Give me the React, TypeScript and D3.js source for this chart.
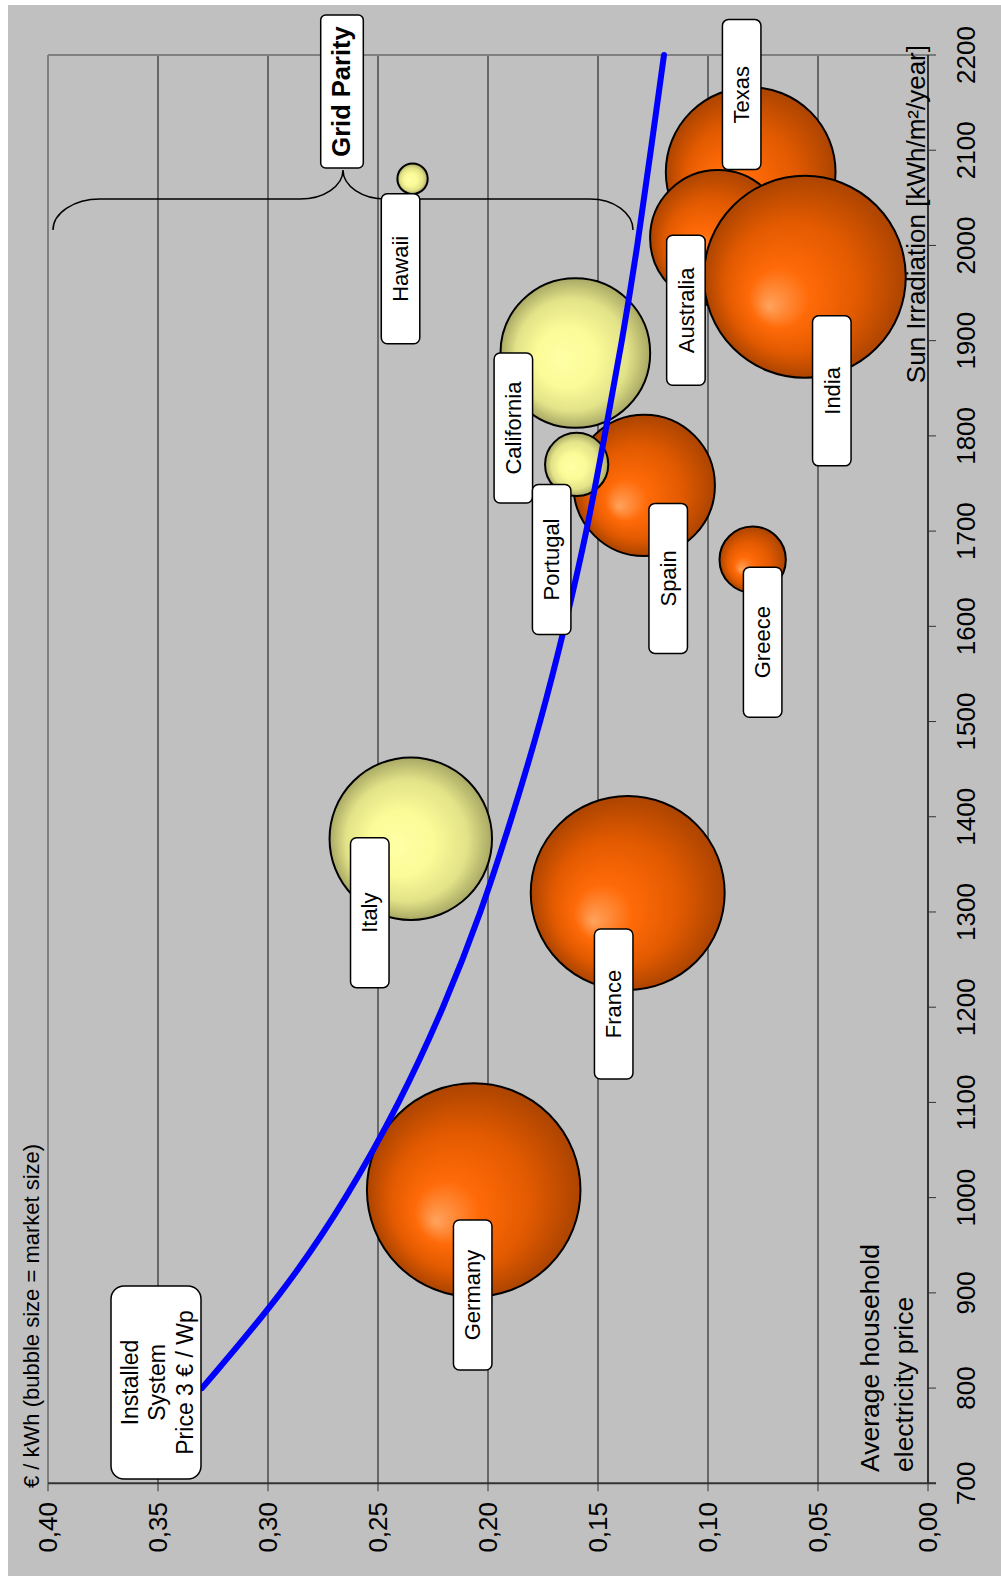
import React from 'react';
import * as d3 from 'd3';

// ---------- data ----------
const countries = ['Texas', 'Australia', 'India', 'Spain', 'Greece', 'France', 'Germany', 'Hawaii', 'California', 'Portugal', 'Italy'];
const irradiation = [2077, 2008, 1967, 1748, 1670, 1320, 1008, 2070, 1887, 1770, 1377];
const pricePerKWh = [0.0806, 0.0955, 0.056, 0.129, 0.0797, 0.1365, 0.2065, 0.2343, 0.1603, 0.1597, 0.2351];
const marketSize = [72, 46, 102, 50, 11, 94, 114, 2.3, 56, 10, 66];
const bubbleGroup = ['orange', 'orange', 'orange', 'orange', 'orange', 'orange', 'orange', 'yellow', 'yellow', 'yellow', 'yellow'];

// blue line: installed system price 3 €/Wp
const curveIrradiation = [800, 900, 1000, 1100, 1200, 1300, 1400, 1500, 1600, 1700, 1800, 1900, 2000, 2100, 2200];
const curvePrice = [0.330, 0.293, 0.264, 0.240, 0.220, 0.203, 0.189, 0.176, 0.165, 0.155, 0.147, 0.139, 0.132, 0.126, 0.120];

const irradiationTicks = [700, 800, 900, 1000, 1100, 1200, 1300, 1400, 1500, 1600, 1700, 1800, 1900, 2000, 2100, 2200];
const priceTicks = [0, 0.05, 0.1, 0.15, 0.2, 0.25, 0.3, 0.35, 0.4];

// ---------- layout (label offsets in the unrotated frame, px) ----------
const labelOffset: [number, number][] = [
  [77.5, -9], [-72.5, -32], [-114, 27], [-93, 24], [-82.5, 10], [-111, -14], [-105, -1],
  [-90, -12], [-75, -62], [-95, -25], [-74, -41],
];

const W = 1001;
const H = 1583;
const FONT = 'Liberation Sans, Arial, Helvetica, sans-serif';

export default function App() {
  const xScale = d3.scaleLinear().domain([700, 2200]).range([99.7, 1528]);
  const yScale = d3.scaleLinear().domain([0, 0.4]).range([928, 48]);
  const rScale = d3.scaleSqrt().domain([0, 100]).range([0, 100]);
  const fmt = (v: number) => d3.format('.2f')(v).replace('.', ',');

  const line = d3
    .line<number>()
    .x((_, i) => xScale(curveIrradiation[i]))
    .y((d) => yScale(d))
    .curve(d3.curveBasis);

  const [x0, x1] = xScale.range();
  const [yBottom, yTop] = yScale.range();

  const idx = countries.map((_, i) => i);

  const label = (i: number, keyPrefix: string) => {
    const cx = xScale(irradiation[i]) + labelOffset[i][0];
    const cy = yScale(pricePerKWh[i]) + labelOffset[i][1];
    return (
      <g key={keyPrefix + i}>
        <rect x={cx - 75} y={cy - 19.25} width={150} height={38.5} rx={6} fill="#fff" stroke="#000" strokeWidth={1.5} />
        <text x={cx} y={cy} dy="0.35em" textAnchor="middle" fontSize={22} fill="#000">
          {countries[i]}
        </text>
      </g>
    );
  };

  return (
    <svg width={W} height={H} style={{ position: 'absolute', left: 0, top: 0, display: 'block' }} fontFamily={FONT}>
      <defs>
        <radialGradient id="gOrange" cx="0.5" cy="0.5" r="0.5" fx="0.35" fy="0.32">
          <stop offset="0" stopColor="#ffa35e" />
          <stop offset="0.3" stopColor="#ff6a08" />
          <stop offset="0.65" stopColor="#e25a00" />
          <stop offset="1" stopColor="#ac4400" />
        </radialGradient>
        <radialGradient id="gYellow" cx="0.5" cy="0.5" r="0.5" fx="0.45" fy="0.4">
          <stop offset="0" stopColor="#ffffa6" />
          <stop offset="0.4" stopColor="#fbfb98" />
          <stop offset="0.75" stopColor="#e2e288" />
          <stop offset="1" stopColor="#a8a865" />
        </radialGradient>
      </defs>
      <rect x={8} y={5} width={993} height={1571} fill="#c0c0c0" />
      <g transform={`translate(0,${H}) rotate(-90)`}>
        {/* gridlines */}
        {priceTicks.slice(1, -1).map((t) => (
          <line key={'g' + t} x1={x0} x2={x1} y1={yScale(t)} y2={yScale(t)} stroke="#111" strokeWidth={1} />
        ))}
        {/* plot borders */}
        <line x1={x0} x2={x1} y1={yTop} y2={yTop} stroke="#808080" strokeWidth={2} />
        <line x1={x1} x2={x1} y1={yTop} y2={yBottom} stroke="#808080" strokeWidth={2} />
        {/* axes */}
        <line x1={x0} x2={x1} y1={yBottom} y2={yBottom} stroke="#333" strokeWidth={2} />
        <line x1={x0} x2={x0} y1={yTop} y2={yBottom + 8} stroke="#333" strokeWidth={2} />
        {irradiationTicks.map((t) => (
          <g key={'xt' + t}>
            <line x1={xScale(t)} x2={xScale(t)} y1={yBottom} y2={yBottom + 8} stroke="#333" strokeWidth={1} />
            <text x={xScale(t)} y={975} textAnchor="middle" fontSize={26} fill="#000">
              {t}
            </text>
          </g>
        ))}
        {priceTicks.map((t) => (
          <g key={'yt' + t}>
            <line x1={x0 - 8} x2={x0} y1={yScale(t)} y2={yScale(t)} stroke="#333" strokeWidth={1} />
            <text x={81} y={yScale(t)} dy="0.35em" textAnchor="end" fontSize={26} fill="#000">
              {fmt(t)}
            </text>
          </g>
        ))}
        <text x={95} y={39} fontSize={22} fill="#000">€ / kWh (bubble size = market size)</text>
        <text x={1538} y={925} textAnchor="end" fontSize={26} fill="#000">Sun Irradiation [kWh/m²/year]</text>
        <text x={111} y={879} fontSize={26.5} fill="#000">Average household</text>
        <text x={111} y={913} fontSize={26.5} fill="#000">electricity price</text>

        {/* bubbles */}
        {idx.map((i) => (
          <circle
            key={'b' + i}
            cx={xScale(irradiation[i])}
            cy={yScale(pricePerKWh[i])}
            r={rScale(marketSize[i])}
            fill={bubbleGroup[i] === 'orange' ? 'url(#gOrange)' : 'url(#gYellow)'}
            stroke="#000"
            strokeWidth={2}
          />
        ))}

        {/* installed system price curve */}
        <path d={line(curvePrice) || ''} fill="none" stroke="#0000ff" strokeWidth={6} strokeLinecap="round" />

        {/* bubble labels */}
        {idx.filter((i) => countries[i] !== 'Hawaii').map((i) => label(i, 'l'))}

        {/* installed system box */}
        <rect x={104} y={111} width={193} height={90} rx={13} fill="#fff" stroke="#000" strokeWidth={1.5} />
        <text x={200.5} y={138.3} textAnchor="middle" fontSize={23} fill="#000">Installed</text>
        <text x={200.5} y={164.8} textAnchor="middle" fontSize={23} fill="#000">System</text>
        <text x={200.5} y={193} textAnchor="middle" fontSize={23} fill="#000">Price 3 € / Wp</text>
      </g>

      {/* grid parity brace (page coordinates) */}
      <path
        d="M53,230 A47,31 0 0 1 100,199 L300,199 A43,29 0 0 0 343,170 A43,29 0 0 0 386,199 L590,199 A43,31 0 0 1 633,230"
        fill="none"
        stroke="#000"
        strokeWidth={1.5}
      />
      <g transform={`translate(0,${H}) rotate(-90)`}>
        {idx.filter((i) => countries[i] === 'Hawaii').map((i) => label(i, 'lh'))}
        <rect x={1415} y={320.7} width={153} height={42.6} rx={5} fill="#fff" stroke="#000" strokeWidth={1.5} />
        <text x={1491.5} y={350} textAnchor="middle" fontSize={25.5} fontWeight="bold" fill="#000">Grid Parity</text>
      </g>
    </svg>
  );
}
